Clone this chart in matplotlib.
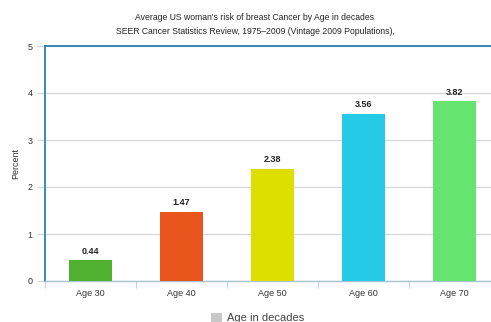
import matplotlib
matplotlib.use('Agg')
import matplotlib.pyplot as plt
from matplotlib.patches import Patch
import numpy as np

plt.rcParams['font.family'] = ['Liberation Sans', 'DejaVu Sans']

# data
ages = ['Age 30', 'Age 40', 'Age 50', 'Age 60', 'Age 70']
risk = [0.44, 1.47, 2.38, 3.56, 3.82]
bar_colors = ['#50b130', '#ea551d', '#dcdf00', '#25cbe6', '#66e46f']

fig = plt.figure(figsize=(4.91, 3.22), dpi=100)
fig.patch.set_facecolor('white')
# axes runs past the right edge of the figure, like the original
ax = fig.add_axes([45 / 491, 1 - 281 / 322, 455 / 491, 235 / 322])

x = np.arange(len(ages))
ax.bar(x, risk, width=0.47, color=bar_colors, zorder=3)
for xi, v in zip(x, risk):
    ax.text(xi, v + 0.1, f'{v:.2f}', ha='center', va='bottom',
            fontsize=6.5, fontweight='bold', color='#222222', zorder=4)

ax.set_xlim(-0.5, len(ages) - 0.5)
ax.set_ylim(0, 5)
ax.set_yticks([0, 1, 2, 3, 4, 5])
ax.set_xticks(x)
ax.set_xticklabels(ages)
ax.set_xticks(np.arange(len(ages) + 1) - 0.5, minor=True)

ax.grid(axis='y', color='#d6d6d6', lw=0.9, zorder=0)
ax.tick_params(axis='y', length=6, color='#d6d6d6', width=0.9,
               labelsize=6.5, labelcolor='#333333', pad=3)
ax.tick_params(axis='x', which='major', length=0, labelsize=6.5,
               labelcolor='#333333', pad=6)
ax.tick_params(axis='x', which='minor', length=5, color='#c8d4dc', width=0.8)

for s in ['left', 'top']:
    ax.spines[s].set_color('#2f7eb3')
    ax.spines[s].set_linewidth(1.3)
ax.spines['right'].set_visible(False)
ax.spines['bottom'].set_color('#a9c2d4')
ax.spines['bottom'].set_linewidth(1.0)

ax.set_ylabel('Percent', fontsize=6.5, color='#333333', labelpad=5)

fig.text(255 / 491, 1 - 17 / 322, "Average US woman's risk of breast Cancer by Age in decades",
         ha='center', va='center', fontsize=6.2, color='#222222')
fig.text(255 / 491, 1 - 31 / 322, 'SEER Cancer Statistics Review, 1975\u20132009 (Vintage 2009 Populations),',
         ha='center', va='center', fontsize=6.2, color='#222222')

fig.legend(handles=[Patch(facecolor='#c8c8c8', edgecolor='none', label='Age in decades')],
           loc='center', bbox_to_anchor=(0.525, 1 - 318 / 322), frameon=False,
           fontsize=8, handlelength=1.0, handleheight=1.0, handletextpad=0.5,
           labelcolor='#444444')

fig.savefig('out.png', dpi=100, facecolor='white')
plt.close(fig)
